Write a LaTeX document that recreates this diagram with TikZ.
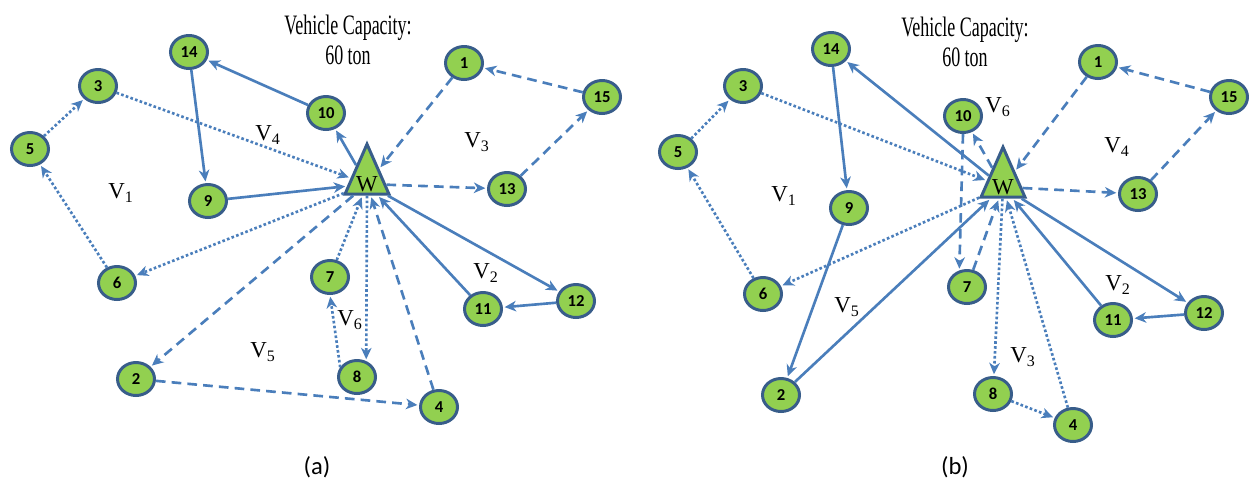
\documentclass[tikz,border=0pt]{standalone}
\usepackage{fontspec}
\setmainfont{Liberation Serif}
\newfontfamily\numfont{Carlito}
\usetikzlibrary{shapes.geometric, arrows.meta}
\definecolor{edgeblue}{RGB}{74,126,187}
\definecolor{nodeblue}{RGB}{56,93,138}
\definecolor{nodegreen}{RGB}{146,208,80}
\tikzstyle{cust}=[ellipse, draw=nodeblue, fill=nodegreen, line width=1.7pt, minimum width=0.74cm, minimum height=0.66cm, inner sep=0pt, font=\numfont\bfseries\fontsize{9.5}{10}\selectfont]
\tikzstyle{depot}=[isosceles triangle, shape border rotate=90, isosceles triangle stretches, draw=nodeblue, fill=nodegreen, line width=1.7pt, inner sep=1pt, minimum width=0.88cm, minimum height=1.0cm, font=\fontsize{13}{13}\selectfont]
\tikzstyle{solidroute}=[draw=edgeblue, line width=1.5pt, -{Stealth[length=6.5pt, width=6pt, inset=2pt]}, shorten >=1pt]
\tikzstyle{dashroute}=[solidroute, dash pattern=on 5.5pt off 3.5pt]
\tikzstyle{dotroute}=[solidroute, dash pattern=on 1.5pt off 1.3pt]
\tikzstyle{vlabel}=[font=\fontsize{13}{15}\selectfont]
\tikzstyle{caplabel}=[align=center, font=\fontsize{16}{17}\selectfont]

\begin{document}
\begin{tikzpicture}[x=0.2mm, y=-0.2mm]
        \useasboundingbox (0,0) rectangle (1249,481);
        % (a)
        \node[depot] (Wa) at (367,184) {W};
        \node[cust] (n1a) at (464,63) {1};
        \node[cust] (n2a) at (136,379) {2};
        \node[cust] (n3a) at (98,86) {3};
        \node[cust] (n4a) at (439,407) {4};
        \node[cust] (n5a) at (30,149) {5};
        \node[cust] (n6a) at (117,283) {6};
        \node[cust] (n7a) at (330,277) {7};
        \node[cust] (n8a) at (357,377) {8};
        \node[cust] (n9a) at (208,201) {9};
        \node[cust] (n10a) at (326,113) {10};
        \node[cust] (n11a) at (483,309) {11};
        \node[cust] (n12a) at (576,301) {12};
        \node[cust] (n13a) at (507,189) {13};
        \node[cust] (n14a) at (189,52) {14};
        \node[cust] (n15a) at (602,97) {15};
        \draw[solidroute] (Wa) -- (n10a);
        \draw[solidroute] (n10a) -- (n14a);
        \draw[solidroute] (n14a) -- (n9a);
        \draw[solidroute] (n9a) -- (Wa);
        \draw[dotroute] (Wa) -- (n6a);
        \draw[dotroute] (n6a) -- (n5a);
        \draw[dotroute] (n5a) -- (n3a);
        \draw[dotroute] (n3a) -- (Wa);
        \draw[dashroute] (Wa) -- (n13a);
        \draw[dashroute] (n13a) -- (n15a);
        \draw[dashroute] (n15a) -- (n1a);
        \draw[dashroute] (n1a) -- (Wa);
        \draw[solidroute] (Wa) -- (n12a);
        \draw[solidroute] (n12a) -- (n11a);
        \draw[solidroute] (n11a) -- (Wa);
        \draw[dashroute] (Wa) -- (n2a);
        \draw[dashroute] (n2a) -- (n4a);
        \draw[dashroute] (n4a) -- (Wa);
        \draw[dotroute] (Wa.south) -- (n8a.60);
        \draw[dotroute] (n8a.150) -- (n7a.south);
        \draw[dotroute] (n7a) -- (Wa);
        \node[vlabel] (v1a) at (121,193) {V\textsubscript{1}};
        \node[vlabel] (v2a) at (486,273) {V\textsubscript{2}};
        \node[vlabel] (v3a) at (477,142) {V\textsubscript{3}};
        \node[vlabel] (v4a) at (268,135) {V\textsubscript{4}};
        \node[vlabel] (v5a) at (263,352) {V\textsubscript{5}};
        \node[vlabel] (v6a) at (350,320) {V\textsubscript{6}};
        \node[caplabel] (capa) at (348,40) {\scalebox{0.64}[1]{Vehicle Capacity:}\\\scalebox{0.64}[1]{60 ton}};
        \node[font=\numfont\fontsize{14}{16}\selectfont] (taga) at (317,467) {(a)};
        % (b)
        \node[depot] (Wb) at (1003,187) {W};
        \node[cust] (n1b) at (1098,62) {1};
        \node[cust] (n2b) at (781,395) {2};
        \node[cust] (n3b) at (743,86) {3};
        \node[cust] (n4b) at (1073,425) {4};
        \node[cust] (n5b) at (678,152) {5};
        \node[cust] (n6b) at (763,294) {6};
        \node[cust] (n7b) at (967,287) {7};
        \node[cust] (n8b) at (993,394) {8};
        \node[cust] (n9b) at (849,208) {9};
        \node[cust] (n10b) at (963,116) {10};
        \node[cust] (n11b) at (1113,320) {11};
        \node[cust] (n12b) at (1204,313) {12};
        \node[cust] (n13b) at (1138,194) {13};
        \node[cust] (n14b) at (831,49) {14};
        \node[cust] (n15b) at (1229,97) {15};
        \draw[solidroute] (Wb) -- (n14b);
        \draw[solidroute] (n14b) -- (n9b);
        \draw[solidroute] (n9b) -- (n2b);
        \draw[solidroute] (n2b) -- (Wb);
        \draw[dotroute] (Wb) -- (n6b);
        \draw[dotroute] (n6b) -- (n5b);
        \draw[dotroute] (n5b) -- (n3b);
        \draw[dotroute] (n3b) -- (Wb);
        \draw[dashroute] (Wb) -- (n10b);
        \draw[dashroute] (n10b.south) -- (n7b.115);
        \draw[dashroute] (n7b) -- (Wb);
        \draw[dashroute] (Wb) -- (n13b);
        \draw[dashroute] (n13b) -- (n15b);
        \draw[dashroute] (n15b) -- (n1b);
        \draw[dashroute] (n1b) -- (Wb);
        \draw[solidroute] (Wb) -- (n12b);
        \draw[solidroute] (n12b) -- (n11b);
        \draw[solidroute] (n11b) -- (Wb);
        \draw[dotroute] (Wb) -- (n8b);
        \draw[dotroute] (n8b) -- (n4b);
        \draw[dotroute] (n4b) -- (Wb);
        \node[vlabel] (v1b) at (784,196) {V\textsubscript{1}};
        \node[vlabel] (v2b) at (1118,285) {V\textsubscript{2}};
        \node[vlabel] (v3b) at (1023,357) {V\textsubscript{3}};
        \node[vlabel] (v4b) at (1117,147) {V\textsubscript{4}};
        \node[vlabel] (v5b) at (847,307) {V\textsubscript{5}};
        \node[vlabel] (v6b) at (998,107) {V\textsubscript{6}};
        \node[caplabel] (capb) at (965,42) {\scalebox{0.64}[1]{Vehicle Capacity:}\\\scalebox{0.64}[1]{60 ton}};
        \node[font=\numfont\fontsize{14}{16}\selectfont] (tagb) at (955,467) {(b)};
    \end{tikzpicture}
\end{document}
